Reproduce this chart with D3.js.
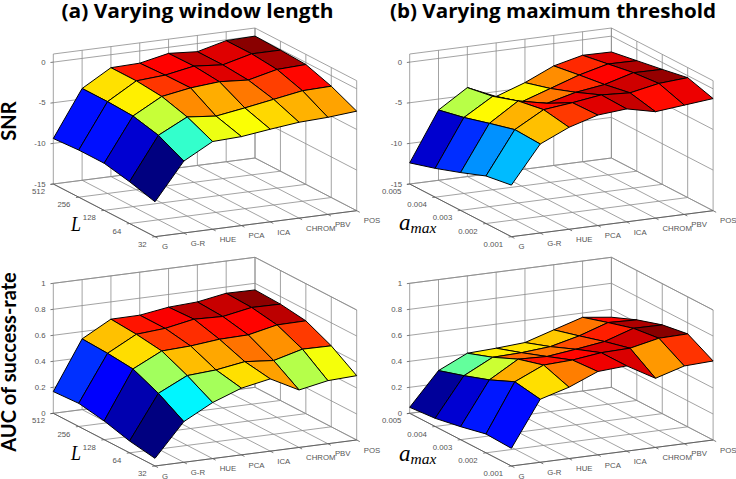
<!DOCTYPE html>
<html>
<head>
<meta charset="utf-8">
<script src="https://cdn.jsdelivr.net/npm/d3@7"></script>
<style>
  html, body { margin: 0; padding: 0; background: #fff; }
  svg { display: block; }
</style>
</head>
<body>
<div id="chart"></div>
<script>
const methods = ['G', 'G-R', 'HUE', 'PCA', 'ICA', 'CHROM', 'PBV', 'POS']
const windowLabels = ['512', '256', '128', '64', '32']
const thresholdLabels = ['0.005', '0.004', '0.003', '0.002', '0.001']
const snrTicks = [-15, -10, -5, 0]
const aucTicks = [0, 0.2, 0.4, 0.6, 0.8, 1]

// rows run from the back of the y axis to the front, columns G..POS
const snrWindow = [
  [-9.4, -3.7, -1.6, -1.5, -0.75, -1.0, -0.1, 0.0],
  [-9.2, -3.7, -1.6, -1.35, -0.7, -1.0, -0.1, -0.1],
  [-9.2, -3.85, -1.9, -1.3, -1.0, -1.25, -0.4, -0.25],
  [-9.85, -4.6, -2.8, -3.15, -2.6, -2.0, -1.4, -1.3],
  [-10.7, -6.15, -4.2, -4.05, -3.6, -3.2, -3.05, -2.75]
]
const snrThreshold = [
  [-12.4, -6.35, -4.05, -5.6, -4.35, -2.75, -1.9, -1.95],
  [-11.45, -5.65, -3.5, -4.65, -3.45, -2.25, -1.35, -1.4],
  [-10.35, -4.75, -2.45, -3.2, -2.3, -1.8, -0.8, -0.85],
  [-9.15, -3.9, -1.9, -1.5, -1.0, -1.2, -0.5, -0.25],
  [-8.65, -4.05, -2.45, -1.4, -1.1, -1.9, -1.55, -1.2]
]
const aucWindow = [
  [0.167, 0.544, 0.667, 0.669, 0.702, 0.714, 0.752, 0.749],
  [0.178, 0.534, 0.652, 0.669, 0.711, 0.703, 0.744, 0.741],
  [0.144, 0.515, 0.625, 0.635, 0.658, 0.663, 0.711, 0.714],
  [0.091, 0.429, 0.537, 0.552, 0.587, 0.567, 0.626, 0.623],
  [0.059, 0.313, 0.431, 0.513, 0.556, 0.442, 0.485, 0.495]
]
const aucThreshold = [
  [0.046, 0.30, 0.405, 0.415, 0.43, 0.499, 0.567, 0.539],
  [0.063, 0.362, 0.475, 0.482, 0.50, 0.554, 0.628, 0.62],
  [0.10, 0.431, 0.562, 0.554, 0.581, 0.612, 0.685, 0.683],
  [0.145, 0.518, 0.618, 0.628, 0.656, 0.662, 0.71, 0.715],
  [0.136, 0.485, 0.549, 0.641, 0.656, 0.532, 0.598, 0.608]
]

const width = 736
const height = 479

// floor of the box as seen on screen, oblique view like the matlab default
const xSpan = { dx: 201.7, dy: -26 }
const ySpan = { dx: 101.7, dy: 52.7 }
const boxHeight = 130

const jet = d3.scaleLinear()
  .domain([0, 0.125, 0.375, 0.625, 0.875, 1])
  .range(['#000080', '#0000ff', '#00ffff', '#ffff00', '#ff0000', '#800000'])

const svg = d3.select('#chart')
  .append('svg')
  .attr('width', width)
  .attr('height', height)

function drawSurface (opts) {
  const g = svg.append('g')
    .attr('transform', 'translate(' + opts.left + ',' + opts.top + ')')

  const x = d3.scalePoint().domain(methods).range([0, 1])
  const y = d3.scalePoint().domain(opts.yLabels).range([0, 1])
  const z = d3.scaleLinear().domain(opts.zDomain).range([0, boxHeight])

  const first = opts.yLabels[0]
  const last = opts.yLabels[opts.yLabels.length - 1]
  const mFirst = methods[0]
  const mLast = methods[methods.length - 1]
  const zLow = opts.zDomain[0]
  const zTop = opts.zDomain[1]

  function project (m, l, v) {
    return [
      x(m) * xSpan.dx + y(l) * ySpan.dx,
      x(m) * xSpan.dy + y(l) * ySpan.dy - z(v)
    ]
  }

  const line = d3.line()

  function gridLine (points, color, w) {
    g.append('path')
      .attr('d', line(points))
      .attr('fill', 'none')
      .attr('stroke', color)
      .attr('stroke-width', w)
  }

  methods.forEach(function (m) {
    gridLine([project(m, last, zLow), project(m, first, zLow), project(m, first, zTop)], '#8c8c8c', 0.8)
  })
  opts.yLabels.forEach(function (l) {
    gridLine([project(mFirst, l, zLow), project(mLast, l, zLow), project(mLast, l, zTop)], '#8c8c8c', 0.8)
  })
  opts.zTicks.concat([zTop]).forEach(function (t) {
    gridLine([project(mFirst, first, t), project(mLast, first, t), project(mLast, last, t)], '#8c8c8c', 0.8)
  })

  // front edges of the floor
  gridLine([project(mFirst, first, zLow), project(mFirst, last, zLow), project(mLast, last, zLow)], '#5a5a5a', 0.9)

  const tickX = 0.014
  const tickY = 0.05
  methods.forEach(function (m) {
    const p = project(m, last, zLow)
    gridLine([p, [p[0] + ySpan.dx * tickY * 0.6, p[1] + ySpan.dy * tickY * 0.6]], '#5a5a5a', 0.8)
  })
  opts.yLabels.forEach(function (l) {
    const p = project(mFirst, l, zLow)
    gridLine([p, [p[0] - xSpan.dx * tickX, p[1] - xSpan.dy * tickX]], '#5a5a5a', 0.8)
  })
  opts.zTicks.forEach(function (t) {
    const p = project(mFirst, first, t)
    gridLine([p, [p[0] - xSpan.dx * tickX, p[1] - xSpan.dy * tickX]], '#5a5a5a', 0.8)
  })

  // far cells first so the near ones paint over them
  const cells = []
  d3.range(methods.length - 2, -1, -1).forEach(function (i) {
    d3.range(0, opts.yLabels.length - 1).forEach(function (j) {
      cells.push({ i: i, j: j })
    })
  })

  const extent = d3.extent(opts.values.flat())
  const colorPos = d3.scaleLinear().domain(extent).range([0, 1])

  g.selectAll('.cell')
    .data(cells)
    .enter()
    .append('path')
    .attr('class', 'cell')
    .attr('d', function (c) {
      const pts = [[c.i, c.j], [c.i + 1, c.j], [c.i + 1, c.j + 1], [c.i, c.j + 1]]
      return line(pts.map(function (p) {
        return project(methods[p[0]], opts.yLabels[p[1]], opts.values[p[1]][p[0]])
      })) + 'Z'
    })
    .attr('fill', function (c) { return jet(colorPos(opts.values[c.j + 1][c.i])) })
    .attr('stroke', '#000')
    .attr('stroke-width', 1)
    .attr('stroke-linejoin', 'round')

  function tickLabel (p, txt, anchor, ox, oy) {
    g.append('text')
      .attr('x', p[0] + ox)
      .attr('y', p[1] + oy)
      .attr('dy', '0.35em')
      .attr('text-anchor', anchor)
      .attr('font-family', 'Liberation Sans, Arial, sans-serif')
      .attr('font-size', 7.8)
      .attr('fill', '#555')
      .text(txt)
  }

  opts.zTicks.forEach(function (t) {
    tickLabel(project(mFirst, first, t), String(t), 'end', -7.7, 0)
  })
  opts.yLabels.forEach(function (l) {
    tickLabel(project(mFirst, l, zLow), l, 'end', -8.3, 7.3)
  })
  methods.forEach(function (m) {
    tickLabel(project(m, last, zLow), m, 'start', 7, 10)
  })
}

drawSurface({ left: 53.3, top: 184, yLabels: windowLabels, zDomain: [-15, 1], zTicks: snrTicks, values: snrWindow })
drawSurface({ left: 409.7, top: 184, yLabels: thresholdLabels, zDomain: [-15, 1], zTicks: snrTicks, values: snrThreshold })
drawSurface({ left: 53.3, top: 413.3, yLabels: windowLabels, zDomain: [0, 1], zTicks: aucTicks, values: aucWindow })
drawSurface({ left: 409.7, top: 413.3, yLabels: thresholdLabels, zDomain: [0, 1], zTicks: aucTicks, values: aucThreshold })

function title (txt, cx, len) {
  svg.append('text')
    .attr('x', cx)
    .attr('y', 17.8)
    .attr('text-anchor', 'middle')
    .attr('font-family', 'Open Sans, sans-serif')
    .attr('font-weight', 700)
    .attr('font-size', 19)
    .attr('textLength', len)
    .attr('lengthAdjust', 'spacingAndGlyphs')
    .attr('fill', '#000')
    .text(txt)
}
title('(a) Varying window length', 197.5, 272)
title('(b) Varying maximum threshold', 553, 326)

function sideLabel (txt, cy) {
  svg.append('text')
    .attr('transform', 'translate(15.5,' + cy + ') rotate(-90)')
    .attr('text-anchor', 'middle')
    .attr('font-family', 'Lato, sans-serif')
    .attr('font-weight', 700)
    .attr('font-size', 20)
    .attr('fill', '#000')
    .text(txt)
}
sideLabel('SNR', 121)
sideLabel('AUC of success-rate', 362)

function symbolL (px, py) {
  svg.append('text')
    .attr('x', px)
    .attr('y', py)
    .attr('font-family', 'Liberation Serif, serif')
    .attr('font-style', 'italic')
    .attr('font-size', 22)
    .attr('textLength', 10)
    .attr('lengthAdjust', 'spacingAndGlyphs')
    .attr('fill', '#000')
    .text('L')
}
symbolL(71, 231)
symbolL(71, 460)

function symbolMax (px, py) {
  const t = svg.append('text')
    .attr('x', px)
    .attr('y', py)
    .attr('font-family', 'Liberation Serif, serif')
    .attr('font-style', 'italic')
    .attr('fill', '#000')
  t.append('tspan').attr('font-size', 23).text('a')
  t.append('tspan').attr('font-size', 15.5).attr('dy', 3).text('max')
}
symbolMax(399, 230)
symbolMax(399, 460.5)
</script>
</body>
</html>
